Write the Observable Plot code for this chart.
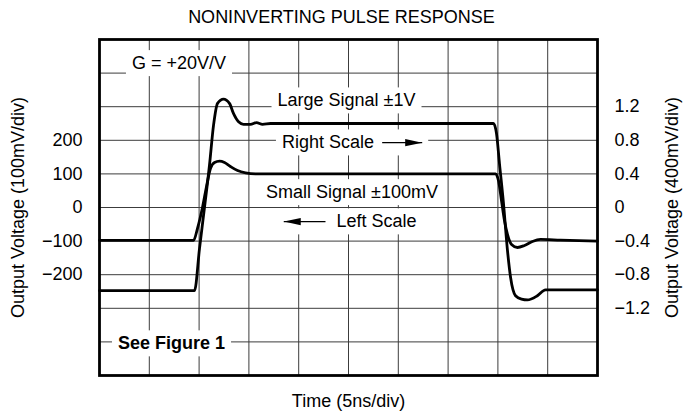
<!DOCTYPE html>
<html><head><meta charset="utf-8">
<script src="https://cdn.jsdelivr.net/npm/d3@7"></script>
<script src="https://cdn.jsdelivr.net/npm/@observablehq/plot@0.6"></script>
<style>
body{margin:0;background:#fff;}
#chart{width:683px;height:412px;}
</style></head><body><div id="chart"></div>
<script>
// ---- texts ----
const title = "NONINVERTING PULSE RESPONSE";
const xLabel = "Time (5ns/div)";
const leftLabel = "Output Voltage (100mV/div)";
const rightLabel = "Output Voltage (400mV/div)";

// ---- data: time in ns (5 ns/div) ----
const largeTime = [0, 9.54, 10.04, 10.54, 11.04, 11.45, 11.85, 12.45, 13.05, 13.45, 13.96, 14.46, 15.16, 15.76, 16.37, 17.17,
  39.56, 39.86, 40.16, 40.56, 40.96, 41.27, 41.77, 42.37, 42.97, 43.97, 44.78, 50];
const largeVolts = [-0.99, -0.99, -0.49, 0.0, 0.5, 0.98, 1.24, 1.29, 1.24, 1.12, 1.02, 0.99, 0.99, 1.01, 0.99, 1.0,
  1.0, 0.88, 0.52, 0.05, -0.51, -0.83, -1.05, -1.09, -1.10, -1.05, -0.98, -0.98];

const smallTime = [0, 9.44, 9.84, 10.34, 10.74, 11.14, 11.55, 12.05, 12.55, 13.15, 13.86, 14.66, 15.66,
  39.76, 40.06, 40.36, 40.66, 40.96, 41.37, 41.97, 42.67, 43.47, 44.28, 46.28, 50];
const smallMillivolts = [-98, -98, -62, 0, 62, 116, 134, 138, 134, 122, 110, 103, 100,
  100, 80, 21, -39, -80, -110, -119, -113, -101, -95, -97, -100];

// ---- ticks ----
const leftTicks = [200, 100, 0, -100, -200];
const leftTickLabels = ["200", "100", "0", "\u2212100", "\u2212200"];
const rightTickVolts = [1.2, 0.8, 0.4, 0, -0.4, -0.8, -1.2];
const rightTickLabels = ["1.2", "0.8", "0.4", "0", "\u22120.4", "\u22120.8", "\u22121.2"];
const gridTimes = [0, 5, 10, 15, 20, 25, 30, 35, 40, 45, 50];
const gridLevels = [-500, -400, -300, -200, -100, 0, 100, 200, 300, 400, 500];

// ---- annotations (time ns, left-scale mV) ----
const labelText = ["G = +20V/V", "Large Signal \u00b11V", "Right Scale", "Small Signal \u00b1100mV", "Left Scale", "See Figure 1"];
const labelTime = [7.98, 24.80, 22.94, 25.35, 27.81, 7.23];
const labelLevel = [429, 318, 193, 45, -42, -405];
const labelBold = [false, false, false, false, false, true];
const arrowFrom = [28.38, 22.69];
const arrowTo = [32.40, 18.50];
const arrowLevel = [193, -42];
const arrowLabelIndex = [2, 4];

// 400 mV/div on the right vs 100 mV/div on the left: 1 V = 250 left units
const VOLT_TO_LEFT = 250;

const traces = [
  ...largeTime.map((t, i) => ({series: "large", t, y: largeVolts[i] * VOLT_TO_LEFT})),
  ...smallTime.map((t, i) => ({series: "small", t, y: smallMillivolts[i]}))
];
const labels = labelText.map((text, i) => ({text, t: labelTime[i], y: labelLevel[i], bold: labelBold[i]}));
const arrows = arrowFrom.map((f, i) => ({t1: f, t2: arrowTo[i], y: arrowLevel[i], dir: arrowTo[i] > f ? 1 : -1}));

const headRight = {draw(ctx, size) { const s = Math.sqrt(size); ctx.moveTo(0, 0); ctx.lineTo(-2 * s, -0.42 * s); ctx.lineTo(-2 * s, 0.42 * s); ctx.closePath(); }};
const headLeft = {draw(ctx, size) { const s = Math.sqrt(size); ctx.moveTo(0, 0); ctx.lineTo(2 * s, -0.42 * s); ctx.lineTo(2 * s, 0.42 * s); ctx.closePath(); }};

const FS = 18;
const gridColor = "#3c3c3c";

const plot = Plot.plot({
  width: 683, height: 412,
  marginLeft: 99, marginRight: 86, marginTop: 39, marginBottom: 37,
  style: {fontFamily: '"Liberation Sans", Arial, Helvetica, sans-serif', fontSize: FS + "px", color: "#000", background: "#fff", overflow: "visible"},
  x: {domain: [0, 50], axis: null},
  y: {domain: [-500, 500], axis: null},
  marks: [
    Plot.gridX(gridTimes, {stroke: gridColor, strokeOpacity: 1, strokeWidth: 1}),
    Plot.gridY(gridLevels, {stroke: gridColor, strokeOpacity: 1, strokeWidth: 1}),
    Plot.axisY(leftTicks, {anchor: "left", tickSize: 0, tickPadding: 17, label: null, fontSize: FS,
      tickFormat: d => leftTickLabels[leftTicks.indexOf(d)]}),
    Plot.axisY(rightTickVolts.map(v => v * VOLT_TO_LEFT), {anchor: "right", tickSize: 0, tickPadding: 17, label: null, fontSize: FS,
      tickFormat: d => rightTickLabels[rightTickVolts.findIndex(v => Math.abs(v * VOLT_TO_LEFT - d) < 1e-6)]}),
    Plot.link(arrows, {x1: "t1", x2: "t2", y1: "y", y2: "y", stroke: "#000", strokeWidth: 1.3}),
    Plot.dot(arrows.filter(a => a.dir > 0), {x: "t2", y: "y", r: 4.8, symbol: headRight, fill: "#000", stroke: "none"}),
    Plot.dot(arrows.filter(a => a.dir < 0), {x: "t2", y: "y", r: 4.8, symbol: headLeft, fill: "#000", stroke: "none"}),
    Plot.text(labels.filter(d => !d.bold), {x: "t", y: "y", text: "text", fontSize: FS, fill: "#000", textAnchor: "middle", lineAnchor: "middle"}),
    Plot.text(labels.filter(d => d.bold), {x: "t", y: "y", text: "text", fontSize: FS, fontWeight: "bold", fill: "#000", textAnchor: "middle", lineAnchor: "middle"}),
    Plot.line(traces, {x: "t", y: "y", z: "series", stroke: "#000", strokeWidth: 2.8, curve: "monotone-x", strokeLinejoin: "round"}),
    Plot.frame({stroke: "#000", strokeWidth: 2.8}),
    Plot.text([title], {frameAnchor: "top", dx: -7, dy: -22, text: d => d, fontSize: FS, textAnchor: "middle", lineAnchor: "middle"}),
    Plot.text([xLabel], {frameAnchor: "bottom", dy: 26, text: d => d, fontSize: FS, textAnchor: "middle", lineAnchor: "middle"}),
    Plot.text([leftLabel], {frameAnchor: "left", dx: -81, rotate: -90, text: d => d, fontSize: FS, textAnchor: "middle", lineAnchor: "middle"}),
    Plot.text([rightLabel], {frameAnchor: "right", dx: 75, rotate: -90, text: d => d, fontSize: FS, textAnchor: "middle", lineAnchor: "middle"})
  ]
});
document.getElementById("chart").append(plot);

// white boxes behind annotation labels (interrupting the graticule)
(function () {
  const svg = plot;
  const sb = svg.getBoundingClientRect();
  const ns = "http://www.w3.org/2000/svg";
  const texts = Array.from(svg.querySelectorAll("text")).filter(el => labelText.includes(el.textContent));
  const linkPaths = Array.from(svg.querySelectorAll('g[aria-label="link"] path, g[aria-label="link"] line'));
  const dotPaths = Array.from(svg.querySelectorAll('g[aria-label="dot"] path'));
  const bg = document.createElementNS(ns, "g");
  texts.forEach(el => {
    const idx = labelText.indexOf(el.textContent);
    let r = el.getBoundingClientRect();
    let x0 = r.left, x1 = r.right, y0 = r.top, y1 = r.bottom;
    const ai = arrowLabelIndex.indexOf(idx);
    if (ai >= 0) {
      [linkPaths[ai]].concat(dotPaths).forEach(p => {
        if (!p) return;
        const q = p.getBoundingClientRect();
        if (Math.abs((q.top + q.bottom) / 2 - (y0 + y1) / 2) < 15) {
          x0 = Math.min(x0, q.left); x1 = Math.max(x1, q.right);
        }
      });
    }
    const rect = document.createElementNS(ns, "rect");
    rect.setAttribute("x", x0 - sb.left - 6);
    rect.setAttribute("y", y0 - sb.top - 3);
    rect.setAttribute("width", x1 - x0 + 12);
    rect.setAttribute("height", y1 - y0 + 6);
    rect.setAttribute("fill", "#fff");
    bg.appendChild(rect);
  });
  const firstLink = svg.querySelector('g[aria-label="link"]');
  svg.insertBefore(bg, firstLink);
})();
</script>
</body></html>
